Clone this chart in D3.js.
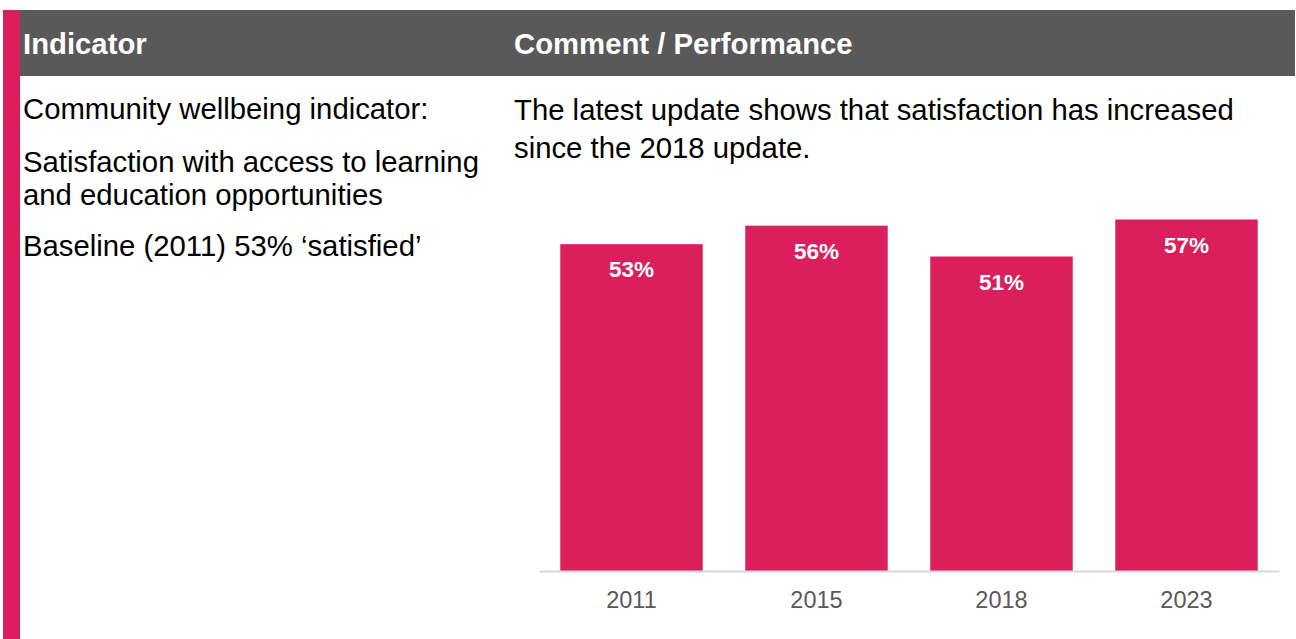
<!DOCTYPE html>
<html>
<head>
<meta charset="utf-8">
<script src="https://cdn.jsdelivr.net/npm/d3@7.9.0/dist/d3.min.js"></script>
<style>
  body { margin: 0; background: #fff; }
  svg { display: block; font-family: "Liberation Sans", Arial, sans-serif; }
</style>
</head>
<body>
<div id="chart"></div>
<script>
const years = ["2011", "2015", "2018", "2023"];
const satisfied = [53, 56, 51, 57];

const headerLabels = ["Indicator", "Comment / Performance"];
const indicatorLines = [
  "Community wellbeing indicator:",
  "Satisfaction with access to learning",
  "and education opportunities",
  "Baseline (2011) 53% \u2018satisfied\u2019"
];
const commentLines = [
  "The latest update shows that satisfaction has increased",
  "since the 2018 update."
];

const width = 1296, height = 639;
const pink = "#da1f5c";
const grey = "#595959";

const svg = d3.select("#chart").append("svg")
  .attr("width", width)
  .attr("height", height);

// left accent strip and table header
svg.append("rect").attr("x", 3).attr("y", 10).attr("width", 17).attr("height", height - 10).attr("fill", pink);
svg.append("rect").attr("x", 20).attr("y", 10).attr("width", width - 21).attr("height", 66).attr("fill", grey);

svg.selectAll(".head")
  .data(headerLabels)
  .join("text")
  .attr("class", "head")
  .attr("x", (d, i) => i === 0 ? 23 : 514)
  .attr("y", 54)
  .attr("fill", "#fff")
  .attr("font-weight", "bold")
  .attr("font-size", 29.3)
  .text(d => d);

const indicatorY = [119, 172, 205, 256];
svg.selectAll(".ind")
  .data(indicatorLines)
  .join("text")
  .attr("class", "ind")
  .attr("x", 23)
  .attr("y", (d, i) => indicatorY[i])
  .attr("font-size", 29.3)
  .attr("fill", "#000")
  .text(d => d);

svg.selectAll(".comm")
  .data(commentLines)
  .join("text")
  .attr("class", "comm")
  .attr("x", 514)
  .attr("y", (d, i) => 120 + i * 38)
  .attr("font-size", 29.3)
  .attr("fill", "#000")
  .text(d => d);

// bar chart
const baseY = 571;
const x = d3.scaleBand()
  .domain(years)
  .range([539, 1279])
  .paddingInner(0.23)
  .paddingOuter(0.115);

const y = d3.scaleLinear()
  .domain([0, 60])
  .range([baseY, 201]);

const data = years.map((yr, i) => ({ year: yr, value: satisfied[i] }));

svg.selectAll(".bar")
  .data(data)
  .join("rect")
  .attr("class", "bar")
  .attr("x", d => x(d.year))
  .attr("y", d => y(d.value))
  .attr("width", x.bandwidth())
  .attr("height", d => y(0) - y(d.value))
  .attr("fill", pink);

svg.selectAll(".val")
  .data(data)
  .join("text")
  .attr("class", "val")
  .attr("x", d => x(d.year) + x.bandwidth() / 2)
  .attr("y", d => y(d.value) + 33)
  .attr("text-anchor", "middle")
  .attr("fill", "#fff")
  .attr("font-weight", "bold")
  .attr("font-size", 22.5)
  .text(d => d.value + "%");

const xAxis = svg.append("g")
  .attr("transform", `translate(0,${baseY})`)
  .call(d3.axisBottom(x).tickSize(0).tickSizeOuter(0).tickPadding(20));

xAxis.select(".domain").attr("stroke", "#d9d9d9").attr("stroke-width", 2);
xAxis.selectAll("text")
  .attr("font-family", "Liberation Sans, Arial, sans-serif")
  .attr("font-size", 23.5)
  .attr("fill", grey);
</script>
</body>
</html>
